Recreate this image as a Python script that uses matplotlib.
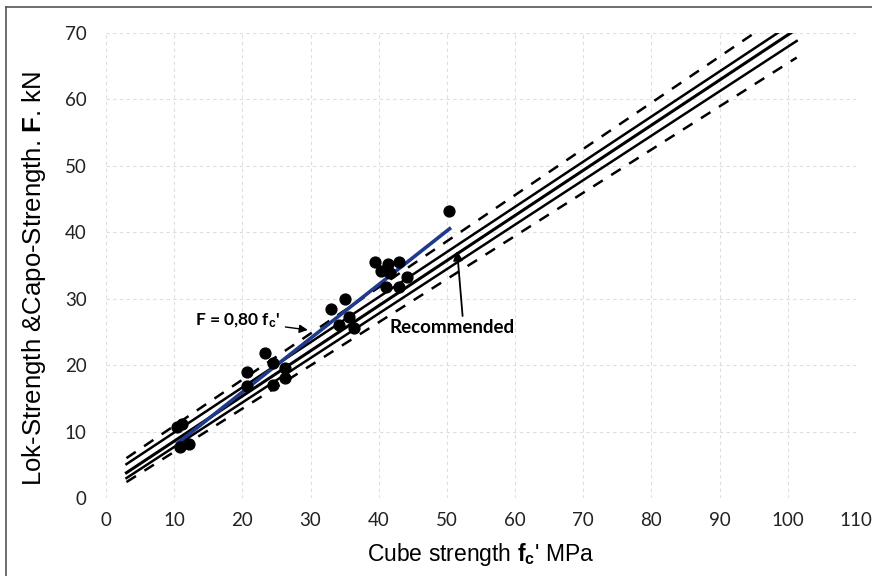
import matplotlib
matplotlib.use("Agg")
import matplotlib.pyplot as plt
from matplotlib.lines import Line2D

plt.rcParams['font.family'] = ['Liberation Sans', 'DejaVu Sans']
plt.rcParams['mathtext.fontset'] = 'custom'
plt.rcParams['mathtext.rm'] = 'Liberation Sans'
plt.rcParams['mathtext.bf'] = 'Liberation Sans:bold'
plt.rcParams['mathtext.it'] = 'Liberation Sans:italic'

# measured points (cube strength MPa, F kN)
cube_strength = [10.4, 11.1, 10.8, 12.1, 20.7, 20.7, 23.3, 24.5, 26.2, 26.2, 24.5,
                 33.0, 34.1, 35.0, 35.7, 36.3, 39.4, 41.4, 43.0, 40.4, 41.6,
                 44.2, 41.1, 43.0, 50.3]
pull_force = [10.7, 11.2, 7.7, 8.2, 19.0, 16.8, 21.9, 20.3, 19.5, 18.0, 17.0,
              28.4, 26.1, 30.0, 27.3, 25.6, 35.5, 35.3, 35.5, 34.1, 33.9,
              33.3, 31.7, 31.7, 43.2]

# fitted line F = 0.80 fc'
fit_x = [10.3, 50.6]
fit_y = [8.1, 40.7]

# recommended band: (x-range, start/end values)
band_x = [3.0, 101.3]
upper_dashed = [6.0, 74.3]
upper_solid = [5.1, 71.9]
recommended = [3.8, 70.6]
lower_solid = [3.0, 68.8]
lower_dashed = [2.4, 66.3]

x_ticks = [0, 10, 20, 30, 40, 50, 60, 70, 80, 90, 100, 110]
y_ticks = [0, 10, 20, 30, 40, 50, 60, 70]

fig = plt.figure(figsize=(8.72, 5.76), dpi=100)
ax = fig.add_axes([106/872, 1-498/576, 750/872, 465/576])

ax.set_xlim(0, 110)
ax.set_ylim(0, 70)
ax.set_xticks(x_ticks)
ax.set_yticks(y_ticks)
for s in ax.spines.values():
    s.set_visible(False)
ax.grid(True, color='#dedede', linestyle=(0, (3, 3)), linewidth=0.8)
ax.tick_params(length=0, labelsize=13.5, colors='#222222')
ax.tick_params(axis='x', pad=10)
ax.tick_params(axis='y', pad=14)
for lab in ax.get_xticklabels() + ax.get_yticklabels():
    lab.set_family(['Lato', 'DejaVu Sans'])

dash = (0, (4.5, 4))
ax.plot(band_x, upper_dashed, color='black', lw=1.8, linestyle=dash, zorder=3)
ax.plot(band_x, upper_solid, color='black', lw=1.8, zorder=3)
ax.plot(band_x, recommended, color='black', lw=2.2, zorder=3)
ax.plot(band_x, lower_solid, color='black', lw=1.8, zorder=3)
ax.plot(band_x, lower_dashed, color='black', lw=1.8, linestyle=dash, zorder=3)

ax.plot(fit_x, fit_y, color='#1f3a8c', lw=2.6, zorder=4, solid_capstyle='butt')

ax.plot(cube_strength, pull_force, 'o', color='black', ms=7.8, zorder=5)

ax.annotate(r"F = 0,80 f$_\mathbf{c}$'", xy=(29.6, 25.3), xytext=(13.0, 26.7),
            fontsize=12.5, fontweight='bold', va='center', ha='left',
            family=['Lato', 'DejaVu Sans'],
            arrowprops=dict(arrowstyle='-|>', color='black', lw=1.0,
                            shrinkA=2, shrinkB=0), zorder=6)
ax.annotate("Recommended", xy=(51.5, 37.2), xytext=(50.7, 25.6),
            fontsize=13.5, fontweight='bold', va='center', ha='center',
            family=['Lato', 'DejaVu Sans'], zorder=6)
ax.annotate("", xy=(51.5, 37.2), xytext=(52.3, 27.4),
            arrowprops=dict(arrowstyle='-|>', color='black', lw=1.3,
                            shrinkA=0, shrinkB=0, mutation_scale=14), zorder=6)

ax.set_xlabel(r"Cube strength $\mathbf{f_c}$' MPa", fontsize=16.5, labelpad=9)
ax.set_ylabel(r"Lok-Strength &Capo-Strength. $\mathbf{F}$. kN", fontsize=18.5)
ax.yaxis.set_label_coords(-0.077, 0.473)

# outer chart border
fig.add_artist(Line2D([6/872, 6/872], [0, 1-7/576], transform=fig.transFigure,
                      color='#555555', lw=1.2))
fig.add_artist(Line2D([6/872, 1], [1-7/576, 1-7/576], transform=fig.transFigure,
                      color='#555555', lw=1.2))

fig.savefig("out.png", dpi=100)
